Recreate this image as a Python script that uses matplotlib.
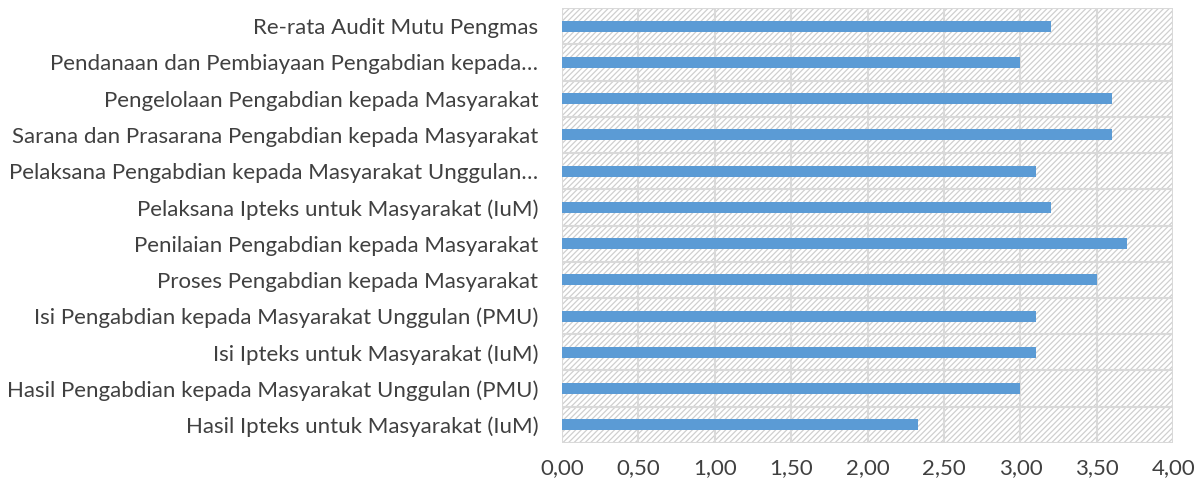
import matplotlib.pyplot as plt
from matplotlib.patches import Rectangle

plt.rcParams['font.family'] = ['Lato', 'DejaVu Sans']
plt.rcParams['hatch.color'] = '#cfcfcf'
plt.rcParams['hatch.linewidth'] = 0.9

labels = [
    "Hasil Ipteks untuk Masyarakat (IuM)",
    "Hasil Pengabdian kepada Masyarakat Unggulan (PMU)",
    "Isi Ipteks untuk Masyarakat (IuM)",
    "Isi Pengabdian kepada Masyarakat Unggulan (PMU)",
    "Proses Pengabdian kepada Masyarakat",
    "Penilaian Pengabdian kepada Masyarakat",
    "Pelaksana Ipteks untuk Masyarakat (IuM)",
    "Pelaksana Pengabdian kepada Masyarakat Unggulan…",
    "Sarana dan Prasarana Pengabdian kepada Masyarakat",
    "Pengelolaan Pengabdian kepada Masyarakat",
    "Pendanaan dan Pembiayaan Pengabdian kepada…",
    "Re-rata Audit Mutu Pengmas",
]
values = [2.33, 3.00, 3.10, 3.10, 3.50, 3.70, 3.20, 3.10, 3.60, 3.60, 3.00, 3.20]
xticks = [0, 0.5, 1, 1.5, 2, 2.5, 3, 3.5, 4]

fig = plt.figure(figsize=(12.02, 4.86), dpi=100)
ax = fig.add_axes([0.4676, 0.0885, 0.5085, 0.895])

# hatched plot area
ax.add_patch(Rectangle((0, 0), 1, 1, transform=ax.transAxes, facecolor='white',
                       hatch='//////', edgecolor='#cfcfcf', linewidth=0, zorder=0))

y = list(range(len(labels)))
ax.barh(y, values, height=0.3, color='#5b9bd5', zorder=3)

ax.set_xlim(0, 4)
ax.set_ylim(-0.5, len(labels) - 0.5)
ax.set_xticks(xticks)
ax.set_xticklabels(['{:.2f}'.format(v).replace('.', ',') for v in xticks])
ax.set_yticks(y)
ax.set_yticklabels(labels)

ax.set_yticks([i + 0.5 for i in range(-1, len(labels))], minor=True)
ax.grid(axis='x', color='#d9d9d9', linewidth=1.5, zorder=1)
ax.grid(axis='y', which='minor', color='#d9d9d9', linewidth=1.5, zorder=1)
ax.grid(axis='y', which='major', visible=False)
ax.set_axisbelow(True)

ax.tick_params(axis='both', which='both', length=0, labelsize=16, colors='#404040')
ax.tick_params(axis='y', pad=17)
ax.tick_params(axis='x', pad=11)
for s in ax.spines.values():
    s.set_visible(False)

fig.savefig('out.png', dpi=100)
